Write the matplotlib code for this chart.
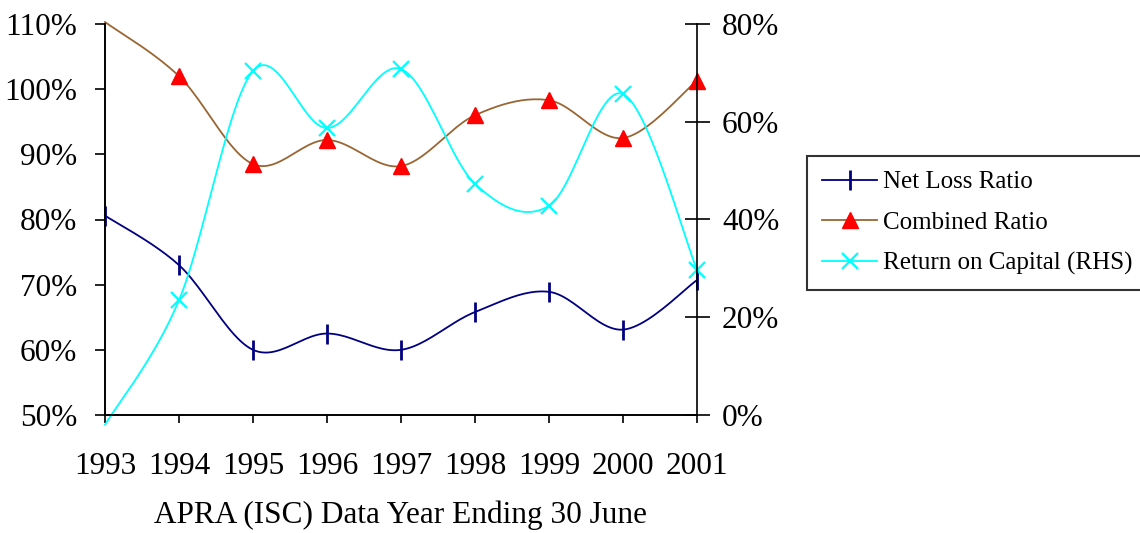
import matplotlib
matplotlib.use('Agg')
import matplotlib.pyplot as plt
import numpy as np

# Data
years = [1993, 1994, 1995, 1996, 1997, 1998, 1999, 2000, 2001]
net_loss_ratio = [80.6, 73.0, 60.0, 62.5, 60.0, 65.8, 68.9, 63.1, 70.7]
combined_ratio = [110.3, 102.0, 88.5, 92.2, 88.2, 96.0, 98.3, 92.5, 101.3]
return_on_capital = [-2.0, 23.5, 70.4, 58.7, 70.8, 47.3, 42.8, 65.7, 29.7]  # RHS

left_ticks = [50, 60, 70, 80, 90, 100, 110]
right_ticks = [0, 20, 40, 60, 80]

plt.rcParams['font.family'] = 'Liberation Serif'


def smooth(x, y, n=24):
    # Excel-style smoothed line (Catmull-Rom as cubic Bezier)
    x = np.asarray(x, float)
    y = np.asarray(y, float)
    xs, ys = [], []
    for i in range(len(x) - 1):
        i0 = max(i - 1, 0)
        i3 = min(i + 2, len(x) - 1)
        p0 = np.array([x[i0], y[i0]])
        p1 = np.array([x[i], y[i]])
        p2 = np.array([x[i + 1], y[i + 1]])
        p3 = np.array([x[i3], y[i3]])
        c1 = p1 + (p2 - p0) / 6
        c2 = p2 - (p3 - p1) / 6
        t = np.linspace(0, 1, n, endpoint=(i == len(x) - 2))[:, None]
        pts = (1 - t) ** 3 * p1 + 3 * (1 - t) ** 2 * t * c1 + 3 * (1 - t) * t ** 2 * c2 + t ** 3 * p2
        xs.extend(pts[:, 0])
        ys.extend(pts[:, 1])
    return np.array(xs), np.array(ys)


def visible(y, lim):
    y = np.asarray(y, float)
    return (y >= lim[0]) & (y <= lim[1])


fig = plt.figure(figsize=(11.4, 5.33), dpi=100)
ax = fig.add_axes([105 / 1140, 1 - 415 / 533, 592 / 1140, 391 / 533])
ax2 = ax.twinx()

left_lim = (50, 110)
right_lim = (0, 80)
ax.set_ylim(*left_lim)
ax2.set_ylim(*right_lim)
ax.set_xlim(1993, 2001)

navy = '#000080'
brown = '#996633'
cyan = '#00FFFF'

# Net Loss Ratio
sx, sy = smooth(years, net_loss_ratio)
ax.plot(sx, sy, color=navy, lw=1.3, clip_on=False)
m = visible(net_loss_ratio, left_lim)
ax.plot(np.array(years)[m], np.array(net_loss_ratio)[m], ls='none', marker='|',
        ms=14, mew=2, color=navy, clip_on=False)

# Combined Ratio
sx, sy = smooth(years, combined_ratio)
ax.plot(sx, sy, color=brown, lw=1.3, clip_on=False)
m = visible(combined_ratio, left_lim)
ax.plot(np.array(years)[m], np.array(combined_ratio)[m], ls='none', marker='^',
        ms=11, color='red', mec='red', clip_on=False)

# Return on Capital (RHS)
sx, sy = smooth(years, return_on_capital)
ax2.plot(sx, sy, color=cyan, lw=1.3, clip_on=False)
m = visible(return_on_capital, right_lim)
ax2.plot(np.array(years)[m], np.array(return_on_capital)[m], ls='none', marker='x',
         ms=11, mew=1.6, color=cyan, clip_on=False)

# Axes styling
fs = 22.5
ax.set_yticks(left_ticks)
ax.set_yticklabels([f'{v}%' for v in left_ticks])
ax2.set_yticks(right_ticks)
ax2.set_yticklabels([f'{v}%' for v in right_ticks])
ax.set_xticks(years)
ax.set_xticklabels([str(y) for y in years])

ax.tick_params(axis='y', direction='out', length=7, width=1.2, labelsize=fs, pad=13)
ax.tick_params(axis='x', direction='out', length=6, width=1.2, labelsize=fs, pad=21)
ax2.tick_params(axis='y', direction='inout', length=18, width=1.2, labelsize=fs, pad=9)

for a in (ax, ax2):
    a.spines['top'].set_visible(False)
    for s in ('left', 'right', 'bottom'):
        a.spines[s].set_linewidth(1.2)
ax.spines['right'].set_visible(False)

ax.set_xlabel('APRA (ISC) Data Year Ending 30 June', fontsize=fs, labelpad=14)

# Legend
handles = [
    plt.Line2D([], [], color=navy, lw=1.3, marker='|', ms=14, mew=2),
    plt.Line2D([], [], color=brown, lw=1.3, marker='^', ms=11, mfc='red', mec='red'),
    plt.Line2D([], [], color=cyan, lw=1.3, marker='x', ms=11, mew=1.6),
]
labels = ['Net Loss Ratio', 'Combined Ratio', 'Return on Capital (RHS)']
leg = fig.legend(handles, labels, loc='upper left', bbox_to_anchor=(807 / 1140, 1 - 156 / 533),
                 fontsize=18, frameon=True, fancybox=False, edgecolor='black',
                 handlelength=2.2, handletextpad=0.25, labelspacing=0.72,
                 borderpad=0.6, borderaxespad=0)
leg.get_frame().set_linewidth(1.5)

fig.savefig('out.png', dpi=100)
